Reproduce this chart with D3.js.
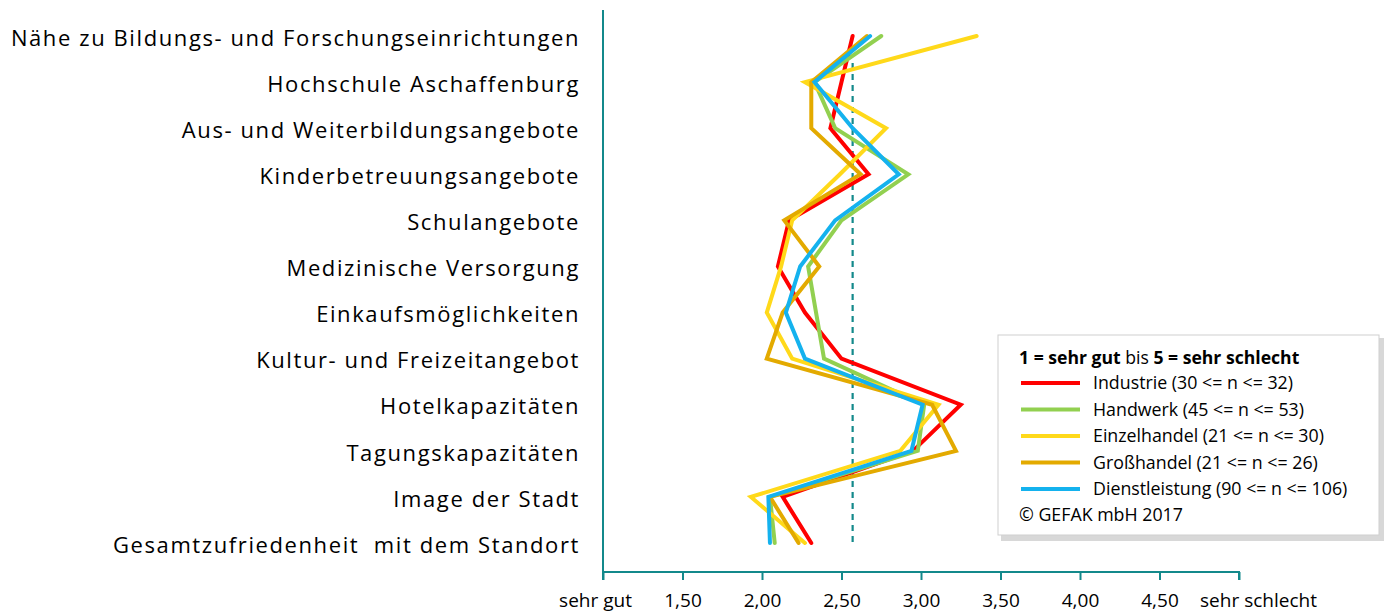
<!DOCTYPE html>
<html>
<head>
<meta charset="utf-8">
<script src="https://cdn.jsdelivr.net/npm/d3@7"></script>
<style>
  html, body { margin: 0; padding: 0; background: #fff; }
  svg { display: block; }
  text { font-family: "Open Sans", "Noto Sans", sans-serif; fill: #000; }
</style>
</head>
<body>
<svg id="chart" width="1384" height="615"></svg>
<script>
// Standortfaktoren: Bewertung je Branche (1 = sehr gut ... 5 = sehr schlecht)
const categories = [
  "Nähe zu Bildungs- und Forschungseinrichtungen",
  "Hochschule Aschaffenburg",
  "Aus- und Weiterbildungsangebote",
  "Kinderbetreuungsangebote",
  "Schulangebote",
  "Medizinische Versorgung",
  "Einkaufsmöglichkeiten",
  "Kultur- und Freizeitangebot",
  "Hotelkapazitäten",
  "Tagungskapazitäten",
  "Image der Stadt",
  "Gesamtzufriedenheit  mit dem Standort"
];

const industrie      = [2.57, 2.50, 2.43, 2.67, 2.17, 2.10, 2.27, 2.50, 3.25, 2.95, 2.13, 2.31];
const handwerk       = [2.75, 2.33, 2.46, 2.92, 2.50, 2.29, 2.34, 2.39, 3.02, 2.98, 2.05, 2.08];
const einzelhandel   = [3.35, 2.27, 2.78, 2.49, 2.19, 2.12, 2.03, 2.19, 3.11, 2.87, 1.93, 2.27];
const grosshandel    = [2.66, 2.31, 2.31, 2.62, 2.14, 2.36, 2.13, 2.03, 3.07, 3.22, 2.05, 2.23];
const dienstleistung = [2.68, 2.33, 2.57, 2.86, 2.46, 2.24, 2.15, 2.27, 3.01, 2.94, 2.04, 2.05];

const seriesNames = [
  "Industrie (30 <= n <= 32)",
  "Handwerk (45 <= n <= 53)",
  "Einzelhandel (21 <= n <= 30)",
  "Großhandel (21 <= n <= 26)",
  "Dienstleistung (90 <= n <= 106)"
];
const seriesColors = ["#ff0000", "#92d050", "#ffd91a", "#e3aa00", "#14b2ee"];
const seriesValues = [industrie, handwerk, einzelhandel, grosshandel, dienstleistung];

const overallMean = 2.57;

const tickValues = [1, 1.5, 2, 2.5, 3, 3.5, 4, 4.5, 5];
const tickLabels = ["sehr gut", "1,50", "2,00", "2,50", "3,00", "3,50", "4,00", "4,50", "sehr schlecht"];

const legendTitle = ["1 = sehr gut", " bis ", "5 = sehr schlecht"];
const copyright = "© GEFAK mbH 2017";

// ---- layout ----
const svg = d3.select("#chart");
const axisColor = "#13898b";
const plot = { left: 603, right: 1239, top: 10, bottom: 572 };

const x = d3.scaleLinear().domain([1, 5]).range([plot.left, plot.right]);
const y = d3.scalePoint().domain(categories).range([36, 543]);

// vertical axis line
svg.append("line")
  .attr("x1", plot.left).attr("x2", plot.left)
  .attr("y1", plot.top).attr("y2", plot.bottom)
  .attr("stroke", axisColor).attr("stroke-width", 2);

// horizontal value axis
const xAxis = d3.axisBottom(x)
  .tickValues(tickValues)
  .tickSize(8)
  .tickFormat((d, i) => tickLabels[i]);

const gx = svg.append("g")
  .attr("transform", `translate(0,${plot.bottom})`)
  .call(xAxis);
gx.select(".domain").attr("stroke", axisColor).attr("stroke-width", 2)
  .attr("d", `M${plot.left},8V0H${plot.right}V8`);
gx.selectAll(".tick line").attr("stroke", axisColor).attr("stroke-width", 2);
gx.selectAll(".tick text")
  .attr("y", 35)
  .attr("dy", null)
  .style("font-size", "19px")
  .style("font-family", "\"Open Sans\", sans-serif")
  .attr("fill", "#000");
gx.selectAll(".tick text").filter((d, i) => i === 0).attr("dx", -8);
gx.selectAll(".tick text").filter((d, i) => i === tickValues.length - 1).attr("dx", 19);

// category labels
svg.append("g").selectAll("text")
  .data(categories)
  .join("text")
  .attr("x", 580)
  .attr("y", d => y(d) + 2)
  .attr("dy", "0.35em")
  .attr("text-anchor", "end")
  .style("font-size", "22px")
  .style("letter-spacing", "1.6px")
  .style("white-space", "pre")
  .text(d => d);

// average reference line
svg.append("line")
  .attr("x1", x(overallMean)).attr("x2", x(overallMean))
  .attr("y1", (y(categories[0]) + y(categories[1])) / 2 + 4)
  .attr("y2", y(categories[categories.length - 1]))
  .attr("stroke", "#13898b").attr("stroke-width", 2.2)
  .attr("stroke-dasharray", "6,5");

// series lines
const line = d3.line()
  .x(d => x(d.v))
  .y(d => y(d.c));

svg.append("g").selectAll("path")
  .data(seriesValues)
  .join("path")
  .attr("d", vals => line(vals.map((v, i) => ({ v, c: categories[i] }))))
  .attr("fill", "none")
  .attr("stroke", (d, i) => seriesColors[i])
  .attr("stroke-width", 4)
  .attr("stroke-linejoin", "miter")
  .attr("stroke-linecap", "round");

// legend
const lg = svg.append("g").attr("transform", "translate(998,335)");
lg.append("rect")
  .attr("x", 3).attr("y", 3).attr("width", 384).attr("height", 203)
  .attr("fill", "#d8d8d8");
lg.append("rect")
  .attr("x", 0).attr("y", 0).attr("width", 381).attr("height", 200)
  .attr("fill", "#fff").attr("stroke", "#cfcfcf").attr("stroke-width", 1);

const title = lg.append("text").attr("x", 21).attr("y", 29).style("font-size", "17.6px");
title.append("tspan").style("font-weight", "bold").text(legendTitle[0]);
title.append("tspan").text(legendTitle[1]);
title.append("tspan").style("font-weight", "bold").text(legendTitle[2]);

const rows = lg.selectAll("g.row")
  .data(seriesNames)
  .join("g")
  .attr("class", "row")
  .attr("transform", (d, i) => `translate(0,${48 + i * 26.5})`);
rows.append("line")
  .attr("x1", 23).attr("x2", 82).attr("y1", 0).attr("y2", 0)
  .attr("stroke", (d, i) => seriesColors[i]).attr("stroke-width", 4);
rows.append("text")
  .attr("x", 95).attr("y", 0).attr("dy", "0.35em")
  .style("font-size", "17.8px")
  .text(d => d);

lg.append("text")
  .attr("x", 21).attr("y", 180).attr("dy", "0.35em")
  .style("font-size", "17.8px")
  .text(copyright);
</script>
</body>
</html>
